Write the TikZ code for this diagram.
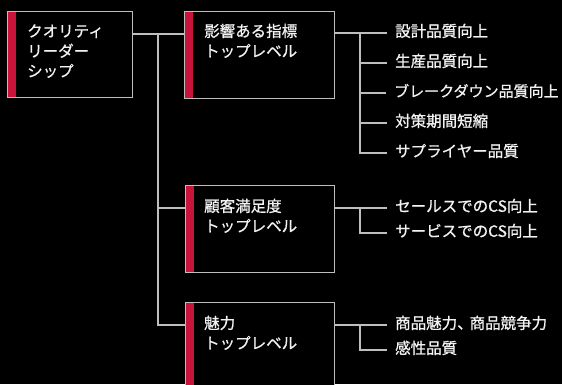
\documentclass[tikz,border=0pt]{standalone}
\usepackage{fontspec}
\setmainfont{Noto Sans CJK JP}[RawFeature={embolden=0.8}]
\definecolor{linegray}{HTML}{BEBEBE}
\definecolor{redbar}{HTML}{C8143A}
\definecolor{txt}{HTML}{F2F2F2}
\begin{document}
\begin{tikzpicture}[x=1pt,y=-1pt,
  box/.style={draw=linegray, line width=1.2pt, fill=black, anchor=north west, inner sep=0pt,
    path picture={\fill[redbar] (path picture bounding box.north west) rectangle ([xshift=8pt]path picture bounding box.south west);}},
  lbl/.style={anchor=west, inner sep=0pt, text=txt, font=\fontsize{15.5pt}{18pt}\selectfont, text height=0.88em, text depth=0.12em},
  conn/.style={draw=linegray, line width=1.2pt}]
\useasboundingbox (0,0) rectangle (562,384);
\fill[black] (0,0) rectangle (562,384);
\clip (0,0) rectangle (562,384);
% boxes
\node[box, minimum width=125pt, minimum height=86pt] (b1) at (7,11) {};
\node[box, minimum width=150pt, minimum height=87pt] (b2) at (184,11) {};
\node[box, minimum width=149pt, minimum height=87pt] (b3) at (185,185) {};
\node[box, minimum width=149pt, minimum height=95pt] (b4) at (185,302) {};
% box texts
\node[lbl] (b1t1) at (27,33) {クオリティ};
\node[lbl] (b1t2) at (27,53) {リーダー};
\node[lbl] (b1t3) at (27,73) {シップ};
\node[lbl] (b2t1) at (204,33) {影響ある指標};
\node[lbl] (b2t2) at (204,53) {トップレベル};
\node[lbl] (b3t1) at (204,208) {顧客満足度};
\node[lbl] (b3t2) at (204,228) {トップレベル};
\node[lbl] (b4t1) at (204,325) {魅力};
\node[lbl] (b4t2) at (204,345) {トップレベル};
% items
\node[lbl] (c21) at (395,33) {設計品質向上};
\node[lbl] (c22) at (395,63) {生産品質向上};
\node[lbl, font=\fontsize{15pt}{18pt}\selectfont] (c23) at (394,93) {ブレークダウン品質向上};
\node[lbl] (c24) at (395,123) {対策期間短縮};
\node[lbl] (c25) at (395,153) {サプライヤー品質};
\node[lbl] (c31) at (395,208) {セールスでのCS向上};
\node[lbl] (c32) at (395,233) {サービスでのCS向上};
\node[lbl] (c41) at (395,325) {商品魅力、\kern-0.2em 商品競争力};
\node[lbl] (c42) at (395,350) {感性品質};
% first level connectors
\coordinate (j1) at (158,34);
\draw[conn] (b1.east |- j1) -- (b2.west |- j1);
\draw[conn] (j1) |- (b4.west |- b4t1);
\draw[conn] (j1 |- b3t1) -- (b3.west |- b3t1);
% second level: box 2
\coordinate (k2) at (360,33);
\draw[conn] (b2.east |- c21) -- ([xshift=-8pt]c21.west);
\draw[conn] (k2) |- ([xshift=-8pt]c25.west);
\foreach \i in {22,23,24} \draw[conn] (k2 |- c\i) -- ([xshift=-8pt]c\i.west);
% box 3
\coordinate (k3) at (360,208);
\draw[conn] (b3.east |- c31) -- ([xshift=-8pt]c31.west);
\draw[conn] (k3) |- ([xshift=-8pt]c32.west);
% box 4
\coordinate (k4) at (360,325);
\draw[conn] (b4.east |- c41) -- ([xshift=-8pt]c41.west);
\draw[conn] (k4) |- ([xshift=-8pt]c42.west);
\end{tikzpicture}
\end{document}
